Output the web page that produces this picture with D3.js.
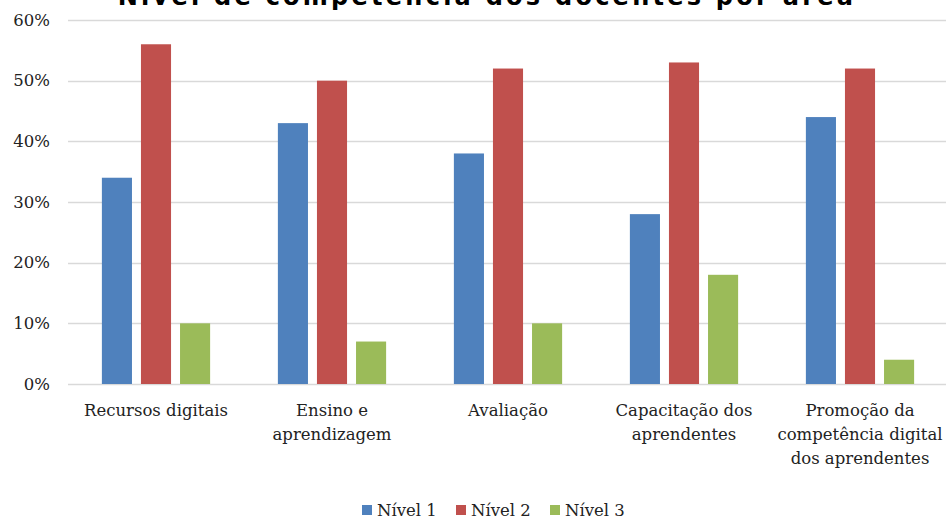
<!DOCTYPE html>
<html>
<head>
<meta charset="utf-8">
<script src="https://cdn.jsdelivr.net/npm/d3@7"></script>
<style>
  html, body { margin: 0; padding: 0; background: #fff; }
  svg { display: block; }
</style>
</head>
<body>
<svg id="chart" width="946" height="519"></svg>
<script>
const categories = [
  ["Recursos digitais"],
  ["Ensino e", "aprendizagem"],
  ["Avaliação"],
  ["Capacitação dos", "aprendentes"],
  ["Promoção da", "competência digital", "dos aprendentes"]
];
const seriesNames = ["Nível 1", "Nível 2", "Nível 3"];
const nivel1 = [0.34, 0.43, 0.38, 0.28, 0.44];
const nivel2 = [0.56, 0.50, 0.52, 0.53, 0.52];
const nivel3 = [0.10, 0.07, 0.10, 0.18, 0.04];
const colors = ["#4F81BD", "#C0504D", "#9BBB59"];
const yTicks = [0, 0.1, 0.2, 0.3, 0.4, 0.5, 0.6];
const chartTitle = "Nível de competência dos docentes por área";

const series = [nivel1, nivel2, nivel3];
const svg = d3.select("#chart");
const serif = "'DejaVu Serif', 'Liberation Serif', serif";

const plotLeft = 68, plotRight = 948, plotTop = 20, plotBottom = 384;
const catIdx = categories.map((d, i) => i);
const x0 = d3.scaleBand().domain(catIdx).range([plotLeft, plotRight]).paddingInner(0.385).paddingOuter(0.1925);
const x1 = d3.scaleBand().domain([0, 1, 2]).range([0, x0.bandwidth()]).paddingInner(0.23);
const y = d3.scaleLinear().domain([0, 0.6]).range([plotBottom, plotTop]);

// gridlines
svg.append("g").selectAll("line").data(yTicks).join("line")
  .attr("x1", plotLeft).attr("x2", 946)
  .attr("y1", d => Math.round(y(d)) + 0.5).attr("y2", d => Math.round(y(d)) + 0.5)
  .attr("stroke", "#d9d9d9").attr("stroke-width", 1.5);

// y labels
svg.append("g").selectAll("text").data(yTicks).join("text")
  .attr("x", 50).attr("y", d => y(d)).attr("dy", "0.35em")
  .attr("text-anchor", "end")
  .attr("font-family", serif).attr("font-size", 16.5).attr("fill", "#222")
  .text(d => d3.format(".0%")(d));

// bars
const g = svg.append("g");
catIdx.forEach(ci => {
  series.forEach((s, si) => {
    g.append("rect")
      .attr("x", x0(ci) + x1(si))
      .attr("y", y(s[ci]))
      .attr("width", x1.bandwidth())
      .attr("height", plotBottom - y(s[ci]))
      .attr("fill", colors[si]);
  });
});

// x labels
const xl = svg.append("g");
categories.forEach((lines, ci) => {
  const cx = x0(ci) + x0.bandwidth() / 2;
  const t = xl.append("text")
    .attr("x", cx)
    .attr("y", 416)
    .attr("text-anchor", "middle")
    .attr("font-family", serif).attr("font-size", 16.5).attr("fill", "#222");
  lines.forEach((ln, li) => {
    t.append("tspan").attr("x", cx).attr("dy", li === 0 ? 0 : 24).text(ln);
  });
});

// title (cut off at the top edge, as in the reference)
svg.append("text")
  .attr("x", 487).attr("y", 5)
  .attr("text-anchor", "middle")
  .attr("font-family", "'DejaVu Sans', sans-serif").attr("font-weight", "bold")
  .attr("font-size", 24).attr("letter-spacing", 3.25).attr("fill", "#000")
  .text(chartTitle);

// legend
const legendX = [362, 456, 550];
const lg = svg.append("g");
seriesNames.forEach((n, i) => {
  lg.append("rect").attr("x", legendX[i]).attr("y", 505).attr("width", 10).attr("height", 10).attr("fill", colors[i]);
  lg.append("text").attr("x", legendX[i] + 15).attr("y", 516)
    .attr("font-family", serif).attr("font-size", 16.5).attr("fill", "#222").text(n);
});
</script>
</body>
</html>
